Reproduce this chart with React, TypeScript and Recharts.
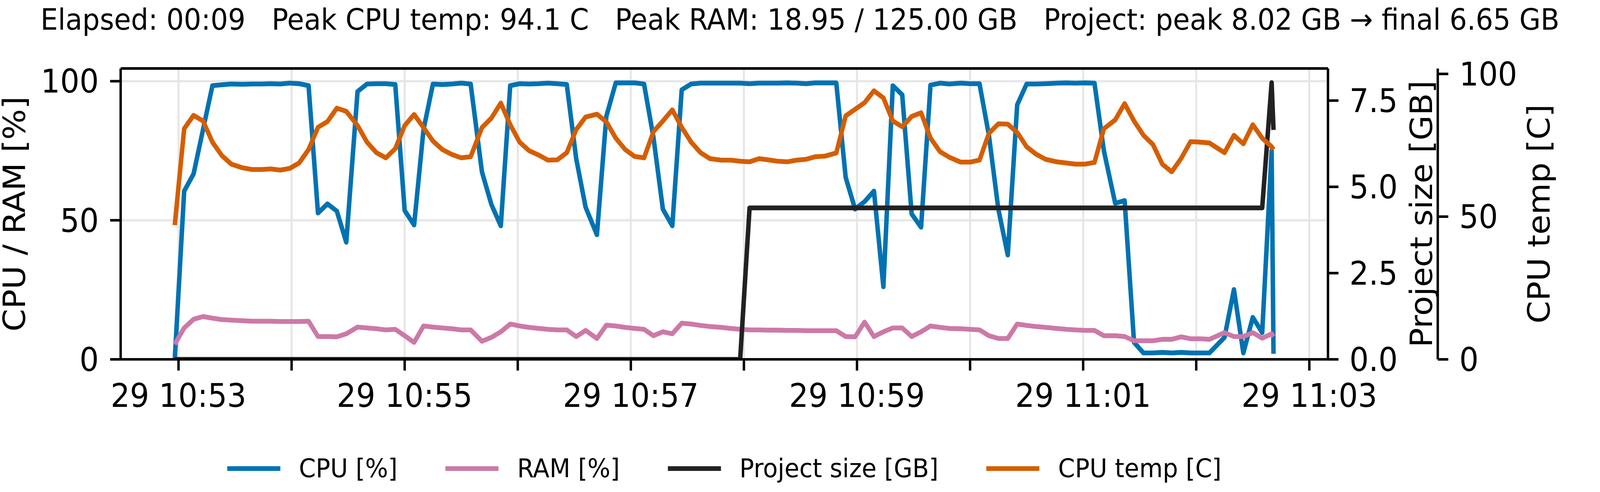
import React, { useLayoutEffect, useState } from "react";
import { LineChart, Line, XAxis, YAxis, CartesianGrid, Legend, ReferenceLine } from "recharts";

// sample clock times (day 29), one row per monitor tick
const sampleTimes = [
  "10:52:58", "10:53:03", "10:53:08", "10:53:13", "10:53:18", "10:53:23", "10:53:28", "10:53:34", "10:53:39", "10:53:44",
  "10:53:49", "10:53:54", "10:53:59", "10:54:04", "10:54:09", "10:54:14", "10:54:19", "10:54:24", "10:54:29", "10:54:35",
  "10:54:40", "10:54:45", "10:54:50", "10:54:55", "10:55:00", "10:55:05", "10:55:10", "10:55:15", "10:55:20", "10:55:25",
  "10:55:30", "10:55:35", "10:55:41", "10:55:46", "10:55:51", "10:55:56", "10:56:01", "10:56:06", "10:56:11", "10:56:16",
  "10:56:21", "10:56:26", "10:56:31", "10:56:36", "10:56:42", "10:56:47", "10:56:52", "10:56:57", "10:57:02", "10:57:07",
  "10:57:12", "10:57:17", "10:57:22", "10:57:27", "10:57:32", "10:57:37", "10:57:42", "10:57:48", "10:57:53", "10:57:58",
  "10:58:03", "10:58:08", "10:58:13", "10:58:18", "10:58:23", "10:58:28", "10:58:33", "10:58:38", "10:58:43", "10:58:49",
  "10:58:54", "10:58:59", "10:59:04", "10:59:09", "10:59:14", "10:59:19", "10:59:24", "10:59:29", "10:59:34", "10:59:39",
  "10:59:44", "10:59:49", "10:59:55", "11:00:00", "11:00:05", "11:00:10", "11:00:15", "11:00:20", "11:00:25", "11:00:30",
  "11:00:35", "11:00:40", "11:00:46", "11:00:51", "11:00:56", "11:01:01", "11:01:06", "11:01:11", "11:01:17", "11:01:22",
  "11:01:27", "11:01:32", "11:01:37", "11:01:42", "11:01:47", "11:01:52", "11:01:57", "11:02:02", "11:02:07", "11:02:15",
  "11:02:20", "11:02:25", "11:02:30", "11:02:35", "11:02:40", "11:02:41",
];

const cpuPct = [
  0, 60.5, 66.7, 82.6, 98.4, 98.7, 99.0, 98.9, 99.0, 99.0,
  99.1, 99.0, 99.3, 99.1, 98.4, 52.6, 55.9, 53.3, 42.1, 96.3,
  99.0, 99.1, 99.1, 98.8, 53.5, 48.3, 82.6, 99.0, 98.8, 99.0,
  99.3, 99.0, 67.4, 55.7, 48.0, 98.4, 99.1, 99.0, 99.1, 99.3,
  99.1, 98.8, 72.2, 54.7, 44.8, 87.4, 99.4, 99.4, 99.4, 99.0,
  79.8, 54.0, 48.0, 96.9, 99.0, 99.3, 99.3, 99.3, 99.3, 99.3,
  99.1, 99.3, 99.3, 99.3, 99.4, 99.3, 99.1, 99.4, 99.4, 99.4,
  65.4, 54.0, 56.7, 60.5, 26.1, 98.4, 95.1, 52.3, 47.5, 98.6,
  99.3, 99.0, 99.3, 99.1, 99.1, 80.5, 54.0, 37.5, 91.5, 99.0,
  99.0, 99.1, 99.3, 99.4, 99.3, 99.4, 99.3, 75.0, 56.1, 57.1,
  6.1, 2.3, 2.3, 2.5, 2.3, 2.5, 2.3, 2.3, 2.3, 7.9,
  25.1, 2.3, 15.1, 9.6, 75.0, 2.0,
];

const ramPct = [
  5.4, 11.3, 14.4, 15.4, 14.8, 14.3, 14.1, 13.9, 13.7, 13.7,
  13.7, 13.6, 13.6, 13.6, 13.7, 8.2, 8.2, 8.1, 9.2, 11.6,
  11.3, 11.0, 10.6, 10.8, 8.5, 6.1, 12.0, 11.6, 11.3, 11.0,
  10.6, 10.6, 6.5, 7.9, 9.9, 12.7, 12.0, 11.5, 11.1, 10.8,
  10.6, 10.6, 8.2, 10.4, 7.5, 12.3, 12.0, 11.5, 11.1, 10.8,
  8.5, 9.9, 9.2, 13.0, 12.7, 12.2, 11.8, 11.5, 11.1, 10.8,
  10.6, 10.6, 10.5, 10.5, 10.4, 10.4, 10.3, 10.3, 10.3, 10.3,
  8.2, 8.1, 13.4, 8.2, 9.9, 11.3, 11.3, 8.2, 9.9, 12.0,
  11.5, 11.1, 11.0, 10.8, 10.6, 8.5, 7.5, 7.5, 12.7, 12.2,
  11.8, 11.5, 11.1, 10.8, 10.6, 10.4, 10.4, 8.5, 8.5, 8.2,
  6.7, 6.7, 6.7, 7.2, 7.2, 8.1, 7.4, 7.4, 7.2, 9.6,
  8.2, 8.2, 9.6, 7.6, 9.2, 8.2,
];

const projectGb = [
  0, 0, 0, 0, 0, 0, 0, 0, 0, 0,
  0, 0, 0, 0, 0, 0, 0, 0, 0, 0,
  0, 0, 0, 0, 0, 0, 0, 0, 0, 0,
  0, 0, 0, 0, 0, 0, 0, 0, 0, 0,
  0, 0, 0, 0, 0, 0, 0, 0, 0, 0,
  0, 0, 0, 0, 0, 0, 0, 0, 0, 0,
  4.39, 4.39, 4.39, 4.39, 4.39, 4.39, 4.39, 4.39, 4.39, 4.39,
  4.39, 4.39, 4.39, 4.39, 4.39, 4.39, 4.39, 4.39, 4.39, 4.39,
  4.39, 4.39, 4.39, 4.39, 4.39, 4.39, 4.39, 4.39, 4.39, 4.39,
  4.39, 4.39, 4.39, 4.39, 4.39, 4.39, 4.39, 4.39, 4.39, 4.39,
  4.39, 4.39, 4.39, 4.39, 4.39, 4.39, 4.39, 4.39, 4.39, 4.39,
  4.39, 4.39, 4.39, 4.39, 8.02, 6.65,
];

const cpuTempC = [
  47.0, 80.8, 85.5, 83.5, 76.1, 71.4, 68.4, 67.1, 66.5, 66.5,
  66.7, 66.3, 66.9, 68.8, 73.5, 81.3, 83.3, 88.0, 86.9, 81.9,
  76.1, 72.4, 70.6, 73.8, 81.9, 85.8, 81.2, 76.5, 73.5, 71.8,
  70.6, 71.0, 81.2, 84.5, 89.8, 82.2, 76.1, 73.1, 71.6, 69.8,
  69.9, 72.4, 80.5, 84.9, 85.9, 83.2, 77.5, 73.5, 71.1, 70.6,
  79.8, 83.5, 87.4, 81.3, 76.1, 72.4, 70.3, 69.8, 69.8, 69.4,
  69.2, 70.3, 69.9, 69.4, 69.2, 69.8, 70.1, 71.0, 71.2, 72.3,
  85.3, 87.6, 89.9, 94.1, 91.6, 83.5, 81.5, 85.1, 86.4, 77.5,
  72.8, 70.8, 69.1, 69.1, 69.8, 79.2, 82.5, 82.4, 79.5, 74.5,
  71.9, 70.1, 69.2, 68.8, 68.4, 68.4, 69.0, 80.8, 83.9, 89.6,
  83.5, 78.5, 75.3, 68.4, 65.7, 70.4, 76.3, 76.1, 75.8, 72.4,
  78.5, 75.5, 82.2, 77.5, 74.5, 73.5,
];

const xTickTimes = ["10:53", "10:54", "10:55", "10:56", "10:57", "10:58", "10:59", "11:00", "11:01", "11:02", "11:03"];
const xTickLabels = ["29 10:53", "", "29 10:55", "", "29 10:57", "", "29 10:59", "", "29 11:01", "", "29 11:03"];
const cpuTicks = [0, 50, 100];
const gbTicks = [0, 2.5, 5, 7.5];
const tempTicks = [0, 50, 100];

const titleText =
  "Elapsed: 00:09   Peak CPU temp: 94.1 C   Peak RAM: 18.95 / 125.00 GB   Project: peak 8.02 GB \u2192 final 6.65 GB";

const series = [
  { key: "cpu", name: "CPU [%]", color: "#0072B2", axis: "cpu" },
  { key: "ram", name: "RAM [%]", color: "#CC79A7", axis: "cpu" },
  { key: "gb", name: "Project size [GB]", color: "#222222", axis: "gb" },
  { key: "temp", name: "CPU temp [C]", color: "#D55E00", axis: "temp" },
];

// layout (px)
const W = 4372;
const H = 1260;
const PLOT_LEFT = 329.7;
const PLOT_TOP = 175.4;
const PLOT_RIGHT = 3628.7;
const PLOT_BOTTOM = 920.3;
const RIGHT_AXIS_W = 300;
const FONT = "'DejaVu Sans', sans-serif";
const TICK_FONT = 83;
const TITLE_FONT = 75;
const LEGEND_FONT = 66;
const SPINE = 6.6;
const TICK_LEN = 28.7;
const X_DOMAIN = [-30.7, 609.9];
const CPU_MAX = 104.57;

const ORIGIN = 10 * 3600 + 53 * 60;
const toSec = (clock: string) => {
  const [h, m, s = 0] = clock.split(":").map(Number);
  return h * 3600 + m * 60 + s - ORIGIN;
};

const data = sampleTimes.map((t, i) => ({
  t: toSec(t),
  cpu: cpuPct[i],
  ram: ramPct[i],
  gb: projectGb[i],
  temp: cpuTempC[i],
}));

const xTicks = xTickTimes.map(toSec);

const tickStyle = { fill: "#000", fontSize: TICK_FONT, fontFamily: FONT };
const lineStyle = { stroke: "#000", strokeWidth: SPINE };

const midY = (PLOT_TOP + PLOT_BOTTOM) / 2;

const axisTitle = (text: string, baselineX: number) => () => (
  <text
    x={baselineX}
    y={midY}
    transform={`rotate(-90, ${baselineX}, ${midY})`}
    textAnchor="middle"
    fontSize={TICK_FONT}
    fontFamily={FONT}
    fill="#000"
  >
    {text}
  </text>
);

const renderLegend = () => (
  <div
    style={{
      display: "flex",
      justifyContent: "center",
      alignItems: "center",
      height: 80,
      fontFamily: FONT,
      fontSize: LEGEND_FONT,
      color: "#000",
    }}
  >
    {series.map((s, i) => (
      <div key={s.key} style={{ display: "flex", alignItems: "center", marginLeft: i ? 131 : 0 }}>
        <span style={{ width: 145, height: 12.3, background: s.color, marginRight: 51 }} />
        <span style={{ lineHeight: 1, whiteSpace: "pre" }}>{s.name}</span>
      </div>
    ))}
  </div>
);

const App = () => {
  // the photographed viewport is not exactly W x H css px; stretch the fixed-size chart onto it
  const [fit, setFit] = useState({ sx: 1, sy: 1 });
  useLayoutEffect(() => {
    document.body.style.margin = "0";
    document.body.style.overflow = "hidden";
    const vw = window.innerWidth || W;
    const vh = window.innerHeight || H;
    setFit({ sx: vw / W, sy: vh / H });
  }, []);

  return (
    <div
      style={{
        position: "absolute",
        left: 0,
        top: 0,
        width: W,
        height: H,
        background: "#fff",
        transform: `scale(${fit.sx}, ${fit.sy})`,
        transformOrigin: "0 0",
      }}
    >
      <div
        style={{
          position: "absolute",
          left: 0,
          top: 12.5,
          width: W,
          textAlign: "center",
          fontFamily: FONT,
          fontSize: TITLE_FONT,
          lineHeight: 1,
          whiteSpace: "pre",
          color: "#000",
        }}
      >
        {titleText}
      </div>
      <LineChart
        width={W}
        height={H}
        data={data}
        margin={{ top: PLOT_TOP, right: W - PLOT_RIGHT - 2 * RIGHT_AXIS_W, bottom: 0, left: 0 }}
      >
        <CartesianGrid xAxisId="x" yAxisId="cpu" stroke="#e6e6e6" strokeWidth={5.5} />
        <XAxis
          xAxisId="x"
          dataKey="t"
          type="number"
          domain={X_DOMAIN}
          allowDataOverflow
          ticks={xTicks}
          interval={0}
          tickFormatter={(v) => xTickLabels[xTicks.indexOf(v)] ?? ""}
          height={H - PLOT_BOTTOM}
          tick={tickStyle}
          tickLine={lineStyle}
          axisLine={lineStyle}
          tickSize={TICK_LEN}
          tickMargin={34}
        />
        <YAxis
          yAxisId="cpu"
          orientation="left"
          width={PLOT_LEFT}
          domain={[0, CPU_MAX]}
          allowDataOverflow
          ticks={cpuTicks}
          interval={0}
          tick={tickStyle}
          tickLine={lineStyle}
          axisLine={lineStyle}
          tickSize={TICK_LEN}
          tickMargin={31}
          label={axisTitle("CPU / RAM [%]", 68)}
        />
        <YAxis
          yAxisId="gb"
          orientation="right"
          width={RIGHT_AXIS_W}
          domain={[0, 8.43]}
          allowDataOverflow
          ticks={gbTicks}
          interval={0}
          tickFormatter={(v) => Number(v).toFixed(1)}
          tick={tickStyle}
          tickLine={lineStyle}
          axisLine={lineStyle}
          tickSize={TICK_LEN}
          tickMargin={30}
          label={axisTitle("Project size [GB]", PLOT_RIGHT + 284)}
        />
        <YAxis
          yAxisId="temp"
          orientation="right"
          width={RIGHT_AXIS_W}
          domain={[0, 101.9]}
          allowDataOverflow
          ticks={tempTicks}
          interval={0}
          tick={tickStyle}
          tickLine={lineStyle}
          axisLine={lineStyle}
          tickSize={TICK_LEN}
          tickMargin={30}
          label={axisTitle("CPU temp [C]", PLOT_RIGHT + RIGHT_AXIS_W + 306)}
        />
        {/* top spine of the frame */}
        <ReferenceLine xAxisId="x" yAxisId="cpu" y={CPU_MAX} stroke="#000" strokeWidth={SPINE} />
        {series.map((s) => (
          <Line
            key={s.key}
            xAxisId="x"
            yAxisId={s.axis}
            dataKey={s.key}
            name={s.name}
            type="linear"
            stroke={s.color}
            strokeWidth={12.3}
            strokeLinejoin="round"
            dot={false}
            activeDot={false}
            isAnimationActive={false}
          />
        ))}
        <Legend
          verticalAlign="middle"
          align="center"
          layout="horizontal"
          content={renderLegend}
          wrapperStyle={{ left: PLOT_LEFT, top: 1160, width: PLOT_RIGHT - PLOT_LEFT, height: 80 }}
        />
      </LineChart>
    </div>
  );
};

export default App;
